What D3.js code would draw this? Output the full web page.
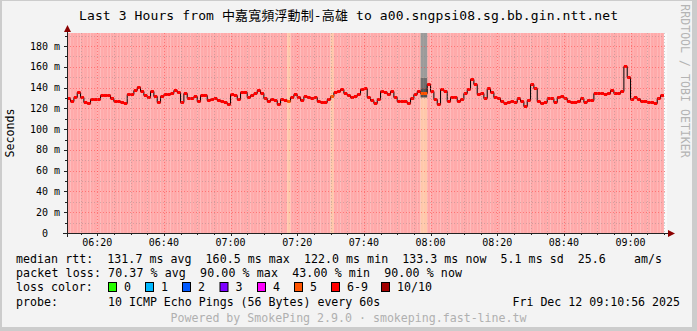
<!DOCTYPE html>
<html>
<head>
<meta charset="utf-8">
<script src="https://cdn.jsdelivr.net/npm/d3@7"></script>
<style>
body { margin: 0; background: #f3f3f3; }
svg { display: block; }
text { font-family: "DejaVu Sans Mono", "Noto Sans CJK TC", monospace; white-space: pre; }
</style>
</head>
<body>
<div id="graph"></div>
<script>
// values
var title = "Last 3 Hours from 中嘉寬頻浮動制-高雄 to a00.sngpsi08.sg.bb.gin.ntt.net";
var startTime = new Date(2025, 11, 12, 6, 10, 56);
var endTime = new Date(2025, 11, 12, 9, 10, 56);
var firstStep = new Date(2025, 11, 12, 6, 10, 0); // one sample per minute from here

var medianMs = [
	129.7, 129.7, 127.4, 130.6, 136.1, 131.3, 126.2, 124.9, 129.0, 129.0,
	129.0, 133.2, 133.2, 133.2, 129.7, 126.8, 127.4, 126.5, 124.9, 133.9,
	133.9, 137.7, 140.6, 137.1, 133.2, 130.6, 136.8, 131.9, 126.5, 132.3,
	133.5, 133.5, 134.5, 137.7, 135.5, 125.8, 135.1, 129.7, 129.7, 132.3,
	127.4, 133.2, 133.2, 128.1, 129.0, 130.0, 128.1, 127.4, 126.5, 124.5,
	133.9, 132.6, 128.7, 136.1, 136.1, 130.6, 133.2, 134.5, 137.7, 135.1,
	130.3, 126.8, 129.0, 128.1, 123.9, 129.0, 128.1, 127.1, 131.3, 133.5,
	130.6, 128.1, 131.9, 130.6, 130.3, 131.3, 127.1, 125.8, 126.5, 129.0,
	132.3, 136.1, 137.1, 138.4, 135.1, 132.9, 131.3, 131.9, 133.5, 138.4,
	139.6, 131.3, 128.1, 125.5, 128.7, 136.8, 135.8, 133.5, 136.8, 131.3,
	127.1, 127.1, 127.1, 125.5, 130.0, 133.5, 136.8, 134.5, 134.5, 143.2,
	136.8, 128.7, 124.2, 138.7, 137.1, 127.1, 131.0, 131.0, 127.4, 129.4,
	134.5, 139.0, 148.3, 143.5, 133.5, 134.5, 129.7, 139.3, 136.1, 131.3,
	130.3, 127.4, 124.9, 125.8, 127.1, 126.2, 130.3, 126.8, 122.0, 128.1,
	143.2, 139.6, 127.4, 124.9, 126.5, 130.0, 130.0, 125.8, 131.0, 131.9,
	129.7, 127.4, 125.8, 126.5, 127.4, 130.3, 126.5, 128.1, 128.1, 134.5,
	134.5, 134.5, 133.5, 135.1, 137.7, 135.1, 134.5, 137.1, 160.5, 149.9,
	129.4, 131.3, 129.4, 127.4, 126.8, 126.2, 125.8, 125.5, 130.3, 133.3
];
// every sample lost 6-9 of 10 pings except these, which lost 5
var lossFiveSteps = [67, 80, 107, 108];
// smoke is only visible around 08:00
var smokeSteps = [107, 108];
var smokePingsMs = [130.5, 139.5, 149.5, 250];

var yTicksMs = [0, 20, 40, 60, 80, 100, 120, 140, 160, 180];
var yTickLabels = ["0", "20 m", "40 m", "60 m", "80 m", "100 m", "120 m", "140 m", "160 m", "180 m"];
var xTickLabels = ["06:20", "06:40", "07:00", "07:20", "07:40", "08:00", "08:20", "08:40", "09:00"];

var rttStats = ["131.7", "160.5", "122.0", "133.3"];
var lossStats = ["70.37", "90.00", "43.00", "90.00"];
var statNames = ["avg", "max", "min", "now"];
var rttSd = "5.1";
var rttAmS = "25.6";
var lossLegend = ["0", "1", "2", "3", "4", "5", "6-9", "10/10"];
var lossColors = ["#26ff00", "#00b8ff", "#0059ff", "#7e00ff", "#ff00ff", "#ff5500", "#ff0000", "#a10000"];
var probeText = "10 ICMP Echo Pings (56 Bytes) every 60s";
var stampText = "Fri Dec 12 09:10:56 2025";
var poweredText = "Powered by SmokePing 2.9.0 · smokeping.fast-line.tw";

var W = 697, H = 331;
var plot = {left: 67, top: 33, width: 600, height: 200};

var svg = d3.select("#graph").append("svg")
	.attr("width", W)
	.attr("height", H);

// frame
svg.append("rect").attr("width", W).attr("height", H).attr("fill", "#cccccc");
svg.append("rect").attr("x", 2).attr("y", 1).attr("width", 690).attr("height", 326).attr("fill", "#f3f3f3");

var x = d3.scaleTime()
	.domain([startTime, endTime])
	.range([plot.left, plot.left + plot.width]);

var y = d3.scaleLinear()
	.domain([0, 192.6])
	.range([plot.top + plot.height, plot.top]);

var stepStart = i => d3.timeMinute.offset(firstStep, i);
var sx = t => Math.max(plot.left, Math.min(plot.left + plot.width, x(t)));

svg.append("defs").append("clipPath").attr("id", "clip")
	.append("rect")
	.attr("x", plot.left).attr("y", plot.top)
	.attr("width", plot.width).attr("height", plot.height);

// canvas
svg.append("rect")
	.attr("x", plot.left).attr("y", plot.top)
	.attr("width", plot.width).attr("height", plot.height)
	.attr("fill", "#fafafa");

var g = svg.append("g").attr("clip-path", "url(#clip)");

// loss background, one bar per sample
g.append("g")
	.selectAll("rect")
	.data(medianMs)
	.join("rect")
	.attr("x", (d, i) => sx(stepStart(i)))
	.attr("width", (d, i) => sx(stepStart(i + 1)) - sx(stepStart(i)))
	.attr("y", plot.top)
	.attr("height", plot.height)
	.attr("fill", (d, i) => lossFiveSteps.includes(i) ? "#ffc8aa" : "#ffaaaa");

// smoke
var smokeGrey = ["#4f4f4f", "#6e6e6e", "#9b9b9b"];
smokeSteps.forEach(function (s) {
	for (var j = 0; j < smokePingsMs.length - 1; j++) {
		g.append("rect")
			.attr("x", sx(stepStart(s)))
			.attr("width", sx(stepStart(s + 1)) - sx(stepStart(s)))
			.attr("y", y(smokePingsMs[j + 1]))
			.attr("height", y(smokePingsMs[j]) - y(smokePingsMs[j + 1]))
			.attr("fill", smokeGrey[j]);
	}
});

// grid
var majorTimes = xTickLabels.map(l => d3.timeParse("%Y-%m-%d %H:%M")("2025-12-12 " + l));
var minorTimes = d3.timeMinute.every(5).range(startTime, endTime)
	.filter(t => t.getMinutes() % 20 != 0);
var minorMs = d3.range(10, 192, 10).filter(v => v % 20 != 0);
var grid = svg.append("g").attr("stroke-dasharray", "1,2").attr("shape-rendering", "crispEdges");

grid.selectAll(".vminor").data(minorTimes).join("line")
	.attr("x1", d => Math.round(x(d)) + 0.5).attr("x2", d => Math.round(x(d)) + 0.5)
	.attr("y1", plot.top).attr("y2", plot.top + plot.height)
	.attr("stroke", "rgba(130,130,130,0.35)");
grid.selectAll(".hminor").data(minorMs).join("line")
	.attr("y1", d => Math.round(y(d)) + 0.5).attr("y2", d => Math.round(y(d)) + 0.5)
	.attr("x1", plot.left).attr("x2", plot.left + plot.width)
	.attr("stroke", "rgba(130,130,130,0.35)");
grid.selectAll(".vmajor").data(majorTimes).join("line")
	.attr("x1", d => Math.round(x(d)) + 0.5).attr("x2", d => Math.round(x(d)) + 0.5)
	.attr("y1", plot.top).attr("y2", plot.top + plot.height)
	.attr("stroke", "rgba(255,60,60,0.5)");
grid.selectAll(".hmajor").data(yTicksMs.slice(1)).join("line")
	.attr("y1", d => Math.round(y(d)) + 0.5).attr("y2", d => Math.round(y(d)) + 0.5)
	.attr("x1", plot.left).attr("x2", plot.left + plot.width)
	.attr("stroke", "rgba(255,60,60,0.5)");

// median: black step line, then a loss coloured bar on every sample
var pts = medianMs.map((v, i) => [stepStart(i), v]);
pts.push([stepStart(medianMs.length), medianMs[medianMs.length - 1]]);
var line = d3.line()
	.x(d => sx(d[0]))
	.y(d => Math.round(y(d[1])) + 0.5)
	.curve(d3.curveStepAfter);

g.append("path")
	.datum(pts)
	.attr("fill", "none")
	.attr("stroke", "#000")
	.attr("stroke-width", 1)
	.attr("d", line);

g.append("g")
	.selectAll("rect")
	.data(medianMs)
	.join("rect")
	.attr("x", (d, i) => sx(stepStart(i)))
	.attr("width", (d, i) => sx(stepStart(i + 1)) - sx(stepStart(i)))
	.attr("y", d => Math.round(y(d)) - 1)
	.attr("height", 3)
	.attr("fill", (d, i) => lossFiveSteps.includes(i) ? lossColors[5] : lossColors[6]);

// axes
var axisG = svg.append("g").attr("shape-rendering", "crispEdges").attr("stroke", "#222");
axisG.append("line")
	.attr("x1", plot.left - 4).attr("x2", plot.left + plot.width + 2)
	.attr("y1", plot.top + plot.height + 0.5).attr("y2", plot.top + plot.height + 0.5);
axisG.append("line")
	.attr("x1", plot.left + 0.5).attr("x2", plot.left + 0.5)
	.attr("y1", plot.top + plot.height + 4).attr("y2", plot.top - 3);
axisG.selectAll(".xt").data(minorTimes.concat(majorTimes)).join("line")
	.attr("x1", d => Math.round(x(d)) + 0.5).attr("x2", d => Math.round(x(d)) + 0.5)
	.attr("y1", plot.top + plot.height).attr("y2", d => plot.top + plot.height + (d.getMinutes() % 20 ? 2 : 3));
axisG.selectAll(".yt").data(minorMs.concat(yTicksMs)).join("line")
	.attr("y1", d => Math.round(y(d)) + 0.5).attr("y2", d => Math.round(y(d)) + 0.5)
	.attr("x1", plot.left).attr("x2", d => plot.left - (d % 20 ? 2 : 3));

svg.append("path")
	.attr("d", "M" + (plot.left - 3) + "," + (plot.top - 1) + "L" + (plot.left + 4) + "," + (plot.top - 1) + "L" + (plot.left + 0.5) + "," + (plot.top - 8) + "Z")
	.attr("fill", "#8b0000");
svg.append("path")
	.attr("d", "M" + (plot.left + plot.width + 1) + "," + (plot.top + plot.height - 3) + "L" + (plot.left + plot.width + 1) + "," + (plot.top + plot.height + 4) + "L" + (plot.left + plot.width + 8) + "," + (plot.top + plot.height + 0.5) + "Z")
	.attr("fill", "#8b0000");

// tick labels
svg.append("g")
	.selectAll("text")
	.data(yTicksMs)
	.join("text")
	.attr("x", (d, i) => i == 0 ? 48 : 60)
	.attr("y", d => y(d))
	.attr("dy", "0.35em")
	.attr("text-anchor", "end")
	.attr("font-size", "10px")
	.text((d, i) => yTickLabels[i]);

svg.append("g")
	.selectAll("text")
	.data(majorTimes)
	.join("text")
	.attr("x", d => x(d))
	.attr("y", 242.5)
	.attr("dy", "0.35em")
	.attr("text-anchor", "middle")
	.attr("font-size", "10px")
	.text((d, i) => xTickLabels[i]);

// titles
svg.append("text")
	.attr("x", 79).attr("y", 15).attr("dy", "0.35em")
	.attr("font-size", "13px")
	.attr("textLength", 539).attr("lengthAdjust", "spacing")
	.text(title);

svg.append("text")
	.attr("transform", "translate(10,133) rotate(-90)")
	.attr("text-anchor", "middle").attr("dy", "0.35em")
	.attr("font-size", "11.6px")
	.text("Seconds");

svg.append("text")
	.attr("transform", "translate(685,81) rotate(90)")
	.attr("text-anchor", "middle").attr("dy", "0.35em")
	.attr("font-size", "11.6px")
	.attr("fill", "#b4b4b4")
	.text("RRDTOOL / TOBI OETIKER");

// legend
var lg = svg.append("g").attr("font-size", "11.6px");
var rttLine = "median rtt:  " + rttStats.map((v, i) => v + " ms " + statNames[i]).join("  ") +
	"  " + rttSd + " ms sd  " + rttAmS + "    am/s";
var lossLine = "packet loss: " + lossStats.map((v, i) => v + " % " + statNames[i]).join("  ");

lg.append("text").attr("x", 16).attr("y", 259.3).attr("dy", "0.35em")
	.attr("textLength", 646).attr("lengthAdjust", "spacing").text(rttLine);
lg.append("text").attr("x", 16).attr("y", 273.3).attr("dy", "0.35em")
	.attr("textLength", 446).attr("lengthAdjust", "spacing").text(lossLine);
lg.append("text").attr("x", 16).attr("y", 287).attr("dy", "0.35em").text("loss color:");

var boxX = [108, 145, 182, 219.5, 257, 294, 331, 381];
lossLegend.forEach(function (l, i) {
	lg.append("rect")
		.attr("x", boxX[i] + 0.5).attr("y", 282.5)
		.attr("width", 8).attr("height", 9)
		.attr("fill", lossColors[i]).attr("stroke", "#000");
	lg.append("text").attr("x", boxX[i] + 16).attr("y", 287).attr("dy", "0.35em").text(l);
});

lg.append("text").attr("x", 16).attr("y", 301.7).attr("dy", "0.35em").text("probe:");
lg.append("text").attr("x", 108).attr("y", 301.7).attr("dy", "0.35em").text(probeText);
lg.append("text").attr("x", 680).attr("y", 301.7).attr("dy", "0.35em")
	.attr("text-anchor", "end").text(stampText);
lg.append("text").attr("x", 348.5).attr("y", 318.3).attr("dy", "0.35em")
	.attr("text-anchor", "middle").attr("fill", "#b0b0b0").text(poweredText);
</script>
</body>
</html>
